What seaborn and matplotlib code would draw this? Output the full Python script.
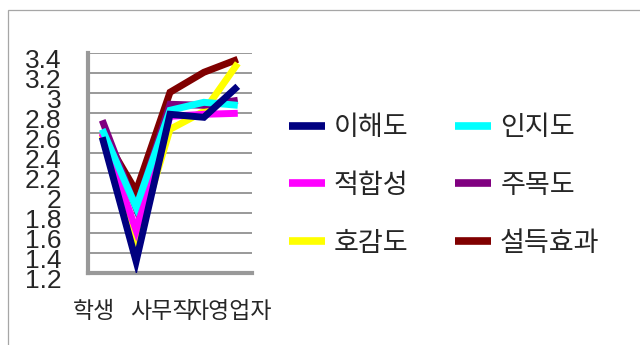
import matplotlib
matplotlib.use("Agg")
import matplotlib.pyplot as plt
import matplotlib.patches as mpatches
from matplotlib.lines import Line2D
from matplotlib.transforms import ScaledTranslation
import pandas as pd
import seaborn as sns

# survey scores by occupation group
groups = ["학생", "주부", "사무직", "전문직", "자영업자"]
shown_groups = ["학생", "사무직", "자영업자"]
comprehension = [2.56, 1.32, 2.79, 2.76, 3.07]   # 이해도
recognition = [2.64, 1.86, 2.83, 2.91, 2.88]     # 인지도
suitability = [2.60, 1.63, 2.77, 2.79, 2.80]     # 적합성
attention = [2.73, 1.85, 2.89, 2.88, 2.93]       # 주목도
likability = [2.58, 1.50, 2.64, 2.82, 3.30]      # 호감도
persuasion = [2.60, 2.02, 3.01, 3.21, 3.34]      # 설득효과

series_names = ["이해도", "인지도", "적합성", "주목도", "호감도", "설득효과"]
series_values = [comprehension, recognition, suitability, attention, likability, persuasion]
series_colors = ["#000080", "#00FFFF", "#FF00FF", "#800080", "#FFFF00", "#800000"]
y_ticks = [1.2, 1.4, 1.6, 1.8, 2.0, 2.2, 2.4, 2.6, 2.8, 3.0, 3.2, 3.4]

rows = []
for name, vals in zip(series_names, series_values):
    for i, v in enumerate(vals):
        rows.append({"pos": i, "group": groups[i], "series": name, "score": v})
df = pd.DataFrame(rows)

sns.set_theme(style="white")
plt.rcParams["font.family"] = ["Noto Sans CJK KR", "DejaVu Sans"]

fig = plt.figure(figsize=(6.4, 3.45), dpi=100)
ax = fig.add_axes([88 / 640, 1 - 273.3 / 345, 164 / 640, 220 / 345])

grid_gray = "#999999"
for y in y_ticks[1:]:
    ax.axhline(y, color=grid_gray, lw=1.4, zorder=0.5)

# first series is drawn on top
n = len(series_names)
for k in range(n - 1, -1, -1):
    name = series_names[k]
    sns.lineplot(data=df[df["series"] == name], x="pos", y="score",
                 color=series_colors[k], lw=5, ax=ax, zorder=2 + (n - k),
                 legend=False, solid_joinstyle="miter", solid_capstyle="butt")

ax.set_xlim(-0.42, 4.42)
ax.set_ylim(1.2, 3.4)
ax.set_xlabel("")
ax.set_ylabel("")

for side in ["top", "right"]:
    ax.spines[side].set_visible(False)
for side in ["left", "bottom"]:
    ax.spines[side].set_color(grid_gray)
    ax.spines[side].set_linewidth(3)

ax.set_yticks(y_ticks)
ax.set_yticklabels([f"{t:g}" for t in y_ticks], fontfamily="Liberation Sans", fontsize=19)
ax.tick_params(axis="y", direction="inout", length=6.5, width=1.6, color=grid_gray, pad=16)
dy = ScaledTranslation(0, -5 / 100, fig.dpi_scale_trans)
for lab in ax.get_yticklabels():
    lab.set_transform(lab.get_transform() + dy)

ax.set_xticks([0, 2, 4])
ax.set_xticklabels(shown_groups, fontsize=16.5)
ax.tick_params(axis="x", length=0, pad=19)
dx = ScaledTranslation(-8 / 100, 0, fig.dpi_scale_trans)
for lab in ax.get_xticklabels():
    lab.set_transform(lab.get_transform() + dx)

# legend laid out row by row: two entries per row
order = [0, 2, 4, 1, 3, 5]
handles = [Line2D([0], [0], color=series_colors[i], lw=5.5, solid_capstyle="butt") for i in order]
labels = [series_names[i] for i in order]
fig.legend(handles, labels, ncol=2, loc="upper left",
           bbox_to_anchor=(289 / 640, 1 - 114 / 345), frameon=False,
           fontsize=19.5, handlelength=1.33, handletextpad=0.32,
           columnspacing=1.74, labelspacing=1.14, borderpad=0, borderaxespad=0)

fig.patches.append(mpatches.Rectangle((8 / 640, -0.2), 2, 1 - 10 / 345 + 0.2,
                                      transform=fig.transFigure, fill=False,
                                      edgecolor="#a6a6a6", lw=0.9))

fig.savefig("out.png", dpi=100, facecolor="white")
